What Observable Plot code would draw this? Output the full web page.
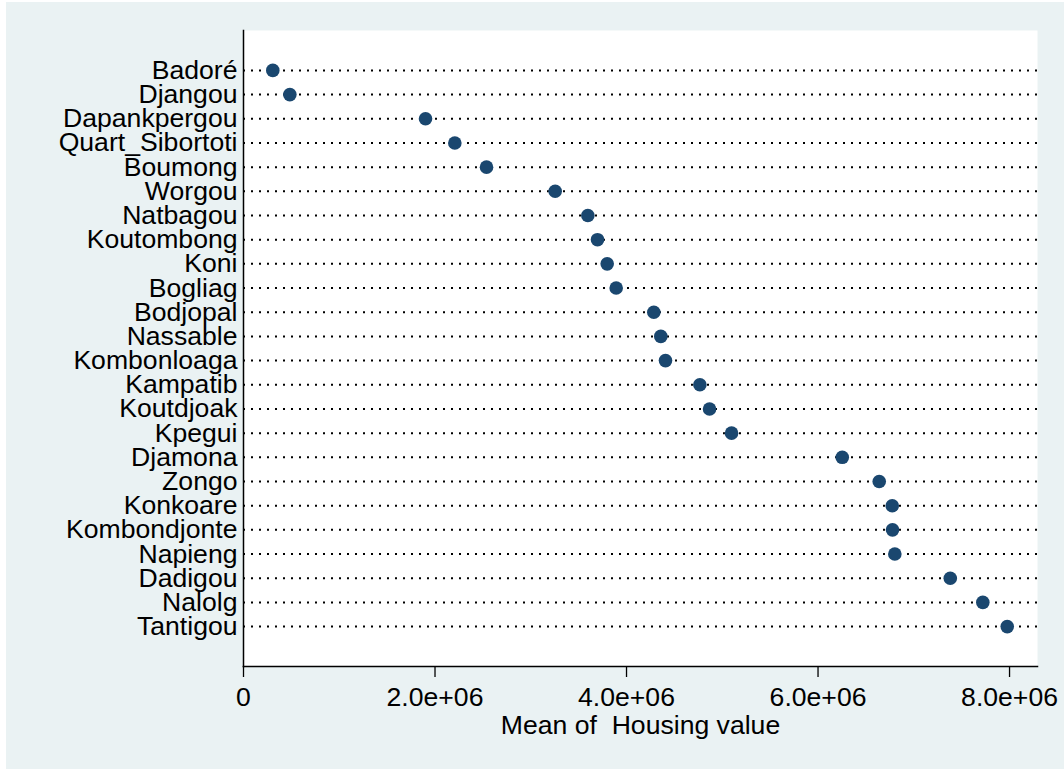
<!DOCTYPE html>
<html><head><meta charset="utf-8">
<script src="https://cdn.jsdelivr.net/npm/d3@7"></script>
<script src="https://cdn.jsdelivr.net/npm/@observablehq/plot@0.6"></script>
<style>
html,body{margin:0;padding:0;background:#fff;}
#chart{position:absolute;left:6px;top:2px;width:1058px;height:767px;background:#EAF2F3;overflow:hidden;}
#chart svg text{white-space:pre;}
</style></head><body><div id="chart"></div>
<script>
const villages = ["Badoré","Djangou","Dapankpergou","Quart_Sibortoti","Boumong","Worgou","Natbagou","Koutombong","Koni","Bogliag","Bodjopal","Nassable","Kombonloaga","Kampatib","Koutdjoak","Kpegui","Djamona","Zongo","Konkoare","Kombondjonte","Napieng","Dadigou","Nalolg","Tantigou"];
const housingValues = [306000,484000,1901000,2207000,2538000,3255000,3596000,3697000,3798000,3892000,4285000,4358000,4407000,4766000,4867000,5097000,6253000,6639000,6775000,6778000,6802000,7381000,7721000,7976000];
const xTicks = [0,2000000,4000000,6000000,8000000];
const xTickLabels = ["0","2.0e+06","4.0e+06","6.0e+06","8.0e+06"];
const xTitle = "Mean of  Housing value";
const data = villages.map((v,i)=>({village:v, value:housingValues[i]}));
const chart = Plot.plot({
  width:1058, height:767, marginLeft:237, marginTop:28, marginRight:27, marginBottom:103,
  style:{background:"#EAF2F3", fontFamily:"'Liberation Sans', Arial, sans-serif", fontSize:"26.6px", color:"#000"},
  x:{domain:[0, 8292000]},
  y:{type:"point", domain:villages, padding:1.65, round:false},
  marks:[
    Plot.frame({fill:"white", stroke:"none"}),
    Plot.ruleY(villages, {y:d=>d, stroke:"black", strokeWidth:2, strokeDasharray:"2,6"}),
    Plot.frame({anchor:"left", stroke:"black", strokeWidth:1.5}),
    Plot.frame({anchor:"bottom", stroke:"black", strokeWidth:1.5}),
    Plot.dot(data, {x:"value", y:"village", r:6.8, fill:"#1A476F"}),
    Plot.axisX({ticks:xTicks, tickFormat:d=>xTickLabels[xTicks.indexOf(d)], tickSize:11, tickPadding:10, label:null, strokeWidth:1.3}),
    Plot.axisY({tickSize:0, tickPadding:6, label:null}),
    Plot.text([xTitle], {text:d=>d, frameAnchor:"bottom", dy:59, lineAnchor:"middle", fill:"black"})
  ]
});
document.getElementById("chart").appendChild(chart);
</script></body></html>
